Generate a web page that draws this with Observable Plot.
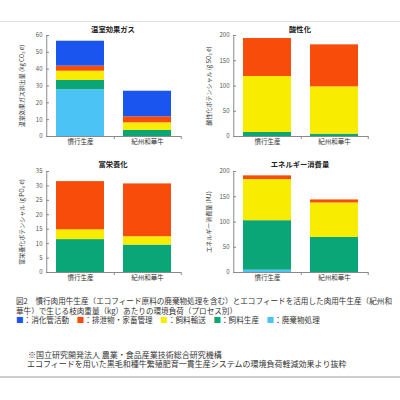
<!DOCTYPE html>
<html>
<head>
<meta charset="utf-8">
<script src="https://cdn.jsdelivr.net/npm/d3@7"></script>
<script src="https://cdn.jsdelivr.net/npm/@observablehq/plot@0.6"></script>
<style>
  html, body { margin: 0; padding: 0; background: #fff; }
  #root { position: relative; width: 400px; height: 400px; overflow: hidden; font-family: "Noto Sans CJK JP", "Noto Sans", sans-serif; color: #333; }
  .abs { position: absolute; white-space: nowrap; }
  .title { font-weight: bold; font-size: 7.3px; color: #222; transform: translate(-50%, -50%); }
  .hline { position: absolute; left: 0; width: 400px; }
  .cap { font-size: 7.6px; line-height: 9.3px; color: #333; }
  .note { font-size: 8px; line-height: 9.5px; color: #333; }
</style>
</head>
<body>
<div id="root"></div>
<script>
// ---- data ----
const categories = ["慣行生産", "紀州和華牛"];
// stack order, bottom to top
const processes = ["廃棄物処理", "飼料生産", "飼料輸送", "排泄物・家畜管理", "消化管活動"];
const processColors = ["#4cc3f5", "#0aa678", "#f8ec00", "#f74c0a", "#1a55f0"];
const legendOrder = ["消化管活動", "排泄物・家畜管理", "飼料輸送", "飼料生産", "廃棄物処理"];

const panelTitles = ["温室効果ガス", "酸性化", "富栄養化", "エネルギー消費量"];
const yLabels = ["温室効果ガス排出量 (kg CO₂ e)", "酸性化ポテンシャル (g SO₂ e)", "富栄養化ポテンシャル (g PO₄ e)", "エネルギー消費量 (MJ)"];
const yMaxes = [60, 200, 35, 200];
const yTickSteps = [10, 50, 5, 50];

// values per category, in processes order (bottom to top)
const ghgConv  = [27.7, 5.6, 5.5, 3.0, 14.8];
const ghgKishu = [0, 3.6, 4.5, 3.6, 15.2];
const acidConv  = [0, 7.9, 110.9, 75.2, 0];
const acidKishu = [0, 4.6, 93.7, 83.2, 0];
const eutConv  = [0, 11.4, 3.4, 16.7, 0];
const eutKishu = [0, 9.5, 2.9, 18.3, 0];
const engConv  = [4.6, 98.0, 81.4, 7.4, 0];
const engKishu = [0, 69.5, 68.2, 6.0, 0];

const panelSeries = [[ghgConv, ghgKishu], [acidConv, acidKishu], [eutConv, eutKishu], [engConv, engKishu]];

const captionLine1 = "図2　慣行肉用牛生産（エコフィード原料の廃棄物処理を含む）とエコフィードを活用した肉用牛生産（紀州和";
const captionLine2 = "華牛）で生じる枝肉重量（kg）あたりの環境負荷（プロセス別）";
const noteLine1 = "※国立研究開発法人 農業・食品産業技術総合研究機構";
const noteLine2 = "エコフィードを用いた黒毛和種牛繁殖肥育一貫生産システムの環境負荷軽減効果より抜粋";

// ---- layout ----
const root = document.getElementById("root");
const panelPos = [{left: 0, top: 30}, {left: 187, top: 30}, {left: 0, top: 166}, {left: 187, top: 166}];
const titlePos = [{x: 113, y: 29}, {x: 300, y: 29}, {x: 113, y: 164}, {x: 300, y: 164}];
const W = 190, H = 125, mL = 46, mR = 9, mT = 5, mB = 19;
const step = (W - mL - mR) / 2;
const axisColor = "#8a8a8a";

function addDiv(cls, text, x, y, extra) {
  const d = document.createElement("div");
  d.className = "abs " + cls;
  d.textContent = text;
  d.style.left = x + "px";
  d.style.top = y + "px";
  if (extra) Object.assign(d.style, extra);
  root.appendChild(d);
  return d;
}

// separators
const topLine = document.createElement("div");
topLine.className = "hline"; topLine.style.top = "21px"; topLine.style.height = "1px"; topLine.style.background = "#e2e2e2";
root.appendChild(topLine);
const botLine = document.createElement("div");
botLine.className = "hline"; botLine.style.top = "376px"; botLine.style.height = "2px"; botLine.style.background = "#cfcfcf";
root.appendChild(botLine);

panelSeries.forEach((series, k) => {
  const rows = [];
  processes.forEach((p, i) => {
    categories.forEach((c, j) => rows.push({cat: c, proc: p, value: series[j][i]}));
  });
  const yMax = yMaxes[k];
  const yTicks = d3.range(0, yMax + 0.001, yTickSteps[k]);
  const chart = Plot.plot({
    width: W, height: H,
    marginLeft: mL, marginRight: mR, marginTop: mT, marginBottom: mB,
    style: {fontFamily: '"Noto Sans CJK JP", sans-serif', fontSize: "6px", background: "transparent", overflow: "visible"},
    x: {domain: categories, paddingInner: 0.289, paddingOuter: 0.1445, axis: null},
    y: {domain: [0, yMax], axis: null},
    color: {domain: processes, range: processColors},
    marks: [
      Plot.barY(rows, {x: "cat", y: "value", fill: "proc"}),
      Plot.ruleY([0], {stroke: axisColor}),
      Plot.ruleX([categories[0]], {x: d => d, y1: 0, y2: yMax, dx: -step / 2, stroke: axisColor}),
      Plot.ruleX(categories, {x: d => d, y1: 0, y2: 0, insetBottom: -3, dx: step / 2, stroke: axisColor}),
      Plot.tickY(yTicks, {y: d => d, stroke: axisColor, insetRight: W - mL - mR - 3}),
      Plot.axisY({ticks: yTicks, tickSize: 0, tickPadding: 4, fill: "#555", fontSize: 6, label: null}),
      Plot.text([yLabels[k]], {text: d => d, frameAnchor: "left", textAnchor: "middle", lineAnchor: "middle", rotate: -90, dx: -24, fill: "#333", fontSize: 6}),
      Plot.axisX({tickSize: 0, tickPadding: 3, fill: "#333", fontSize: 6.5, label: null})
    ]
  });
  chart.style.position = "absolute";
  chart.style.left = panelPos[k].left + "px";
  chart.style.top = panelPos[k].top + "px";
  root.appendChild(chart);
  addDiv("title", panelTitles[k], titlePos[k].x, titlePos[k].y);
});

// caption
addDiv("cap", captionLine1, 16, 296);
addDiv("cap", captionLine2, 16, 305.5);
const leg = document.createElement("div");
leg.className = "abs cap";
leg.style.left = "16px"; leg.style.top = "315px";
legendOrder.forEach((p, i) => {
  const sq = document.createElement("span");
  sq.textContent = "■";
  sq.style.color = processColors[processes.indexOf(p)];
  leg.appendChild(sq);
  const t = document.createElement("span");
  t.textContent = "：" + p + (i < legendOrder.length - 1 ? "　" : "");
  leg.appendChild(t);
});
root.appendChild(leg);

addDiv("note", noteLine1, 28, 349.5);
addDiv("note", noteLine2, 27, 359);
</script>
</body>
</html>
